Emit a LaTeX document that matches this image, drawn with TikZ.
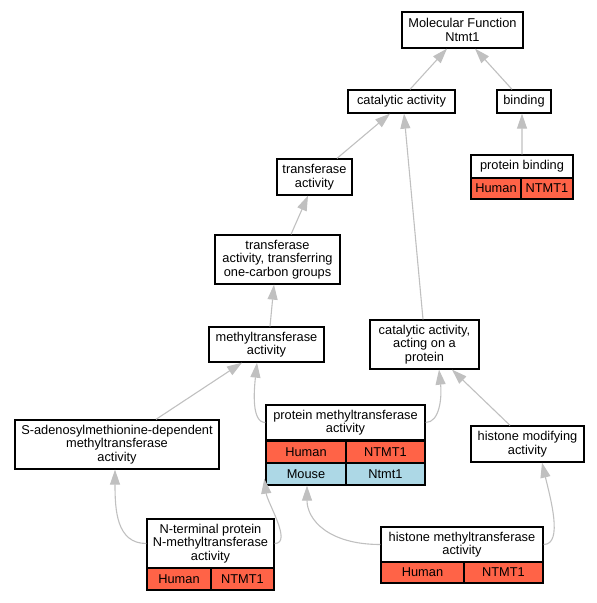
\documentclass[tikz,border=0pt]{standalone}
\usepackage{fontspec}
\setmainfont{Liberation Sans}
\usetikzlibrary{positioning,calc}
\usetikzlibrary{arrows.meta}
\definecolor{edgegray}{RGB}{192,192,192}
\definecolor{human}{RGB}{255,99,71}
\definecolor{mouse}{RGB}{173,216,230}
\tikzstyle{term} = [draw, line width=1.3bp, fill=white, align=center, inner sep=0pt, font=\fontsize{12.8bp}{13.5bp}\selectfont]
\tikzstyle{humancell} = [term, fill=human]
\tikzstyle{mousecell} = [term, fill=mouse]
\tikzstyle{isa} = [draw=edgegray, line width=1.1bp, -{Triangle[length=15bp,width=10bp]}]

\begin{document}
\begin{tikzpicture}[x=1bp,y=-1bp]
	\useasboundingbox (0,0) rectangle (597,603);
	% terms
	\node[term, minimum width=121bp, minimum height=36bp] (mf) at (462.5,30) {Molecular Function\\Ntmt1};
	\node[term, minimum width=107bp, minimum height=23bp] (cat) at (401.5,101.5) {catalytic activity};
	\node[term, minimum width=54bp, minimum height=23bp] (bind) at (524,101.5) {binding};
	\node[term, minimum width=102bp, minimum height=23bp] (pbind) at (522,166.5) {protein binding};
	\node[humancell, minimum width=50bp, minimum height=21bp] (pbindH1) at (496,188.5) {Human};
	\node[humancell, minimum width=52bp, minimum height=21bp] (pbindH2) at (547,188.5) {NTMT1};
	\node[term, minimum width=75bp, minimum height=36bp] (trans) at (314.5,177) {transferase\\activity};
	\node[term, minimum width=125bp, minimum height=49bp] (onec) at (277.5,259.5) {transferase\\activity, transferring\\one-carbon groups};
	\node[term, minimum width=115bp, minimum height=35bp] (meth) at (266.5,344.5) {methyltransferase\\activity};
	\node[term, minimum width=109bp, minimum height=49bp] (catp) at (424.5,344.5) {catalytic activity,\\acting on a\\protein};
	\node[term, minimum width=204bp, minimum height=49bp] (sam) at (117,444.5) {S-adenosylmethionine-dependent\\methyltransferase\\activity};
	\node[term, minimum width=159bp, minimum height=35bp] (pmt) at (345.5,422.5) {protein methyltransferase\\activity};
	\node[humancell, minimum width=80bp, minimum height=22bp] (pmtH1) at (306,452) {Human};
	\node[humancell, minimum width=79bp, minimum height=22bp] (pmtH2) at (385.5,452) {NTMT1};
	\node[mousecell, minimum width=80bp, minimum height=22bp] (pmtM1) at (306,474) {Mouse};
	\node[mousecell, minimum width=79bp, minimum height=22bp] (pmtM2) at (385.5,474) {Ntmt1};
	\node[term, minimum width=113bp, minimum height=36bp] (hmod) at (527.5,444) {histone modifying\\activity};
	\node[term, minimum width=127bp, minimum height=49bp] (nterm) at (210.5,543.5) {N-terminal protein\\N-methyltransferase\\activity};
	\node[humancell, minimum width=64bp, minimum height=22bp] (ntermH1) at (179,579) {Human};
	\node[humancell, minimum width=63bp, minimum height=22bp] (ntermH2) at (242.5,579) {NTMT1};
	\node[term, minimum width=162bp, minimum height=35bp] (hmt) at (462,544.5) {histone methyltransferase\\activity};
	\node[humancell, minimum width=83bp, minimum height=21bp] (hmtH1) at (422.5,572.5) {Human};
	\node[humancell, minimum width=79bp, minimum height=21bp] (hmtH2) at (503.5,572.5) {NTMT1};
	% is-a links
	\draw[isa] ([xshift=8.5bp]cat.north) -- ([xshift=-15.5bp]mf.south);
	\draw[isa] ([xshift=-12bp]bind.north) -- ([xshift=12.5bp]mf.south);
	\draw[isa] ([xshift=22.5bp]trans.north) -- ([xshift=-11.5bp]cat.south);
	\draw[isa] ([xshift=-1.5bp]catp.north) -- ([xshift=2.5bp]cat.south);
	\draw[isa] (pbind.north) -- ([xshift=-2bp]bind.south);
	\draw[isa] ([xshift=13.5bp]onec.north) -- ([xshift=-6.5bp]trans.south);
	\draw[isa] ([xshift=3.5bp]meth.north) -- ([xshift=-3.5bp]onec.south);
	\draw[isa] ([xshift=39bp]sam.north) -- ([xshift=-24.5bp]meth.south);
	\draw[isa] (pmt.west) .. controls +(-14,0) and +(-3,28) .. ([xshift=-9.5bp]meth.south);
	\draw[isa] (pmt.east) .. controls +(14,0) and +(3,28) .. ([xshift=14.5bp]catp.south);
	\draw[isa] ([xshift=-17.5bp]hmod.north) -- ([xshift=27.5bp]catp.south);
	\draw[isa] (nterm.west) .. controls +(-30,0) and +(0,40) .. ([xshift=-2bp]sam.south);
	\draw[isa] (nterm.east) .. controls +(18,0) and +(3,24) .. ([xshift=-1bp,yshift=7bp]pmtM1.south west);
	\draw[isa] (hmt.west) .. controls +(-52,0) and +(0,34) .. ([xshift=1bp]pmtM1.south);
	\draw[isa] (hmt.east) .. controls +(20,0) and +(8,34) .. ([xshift=14.5bp]hmod.south);
\end{tikzpicture}
\end{document}
